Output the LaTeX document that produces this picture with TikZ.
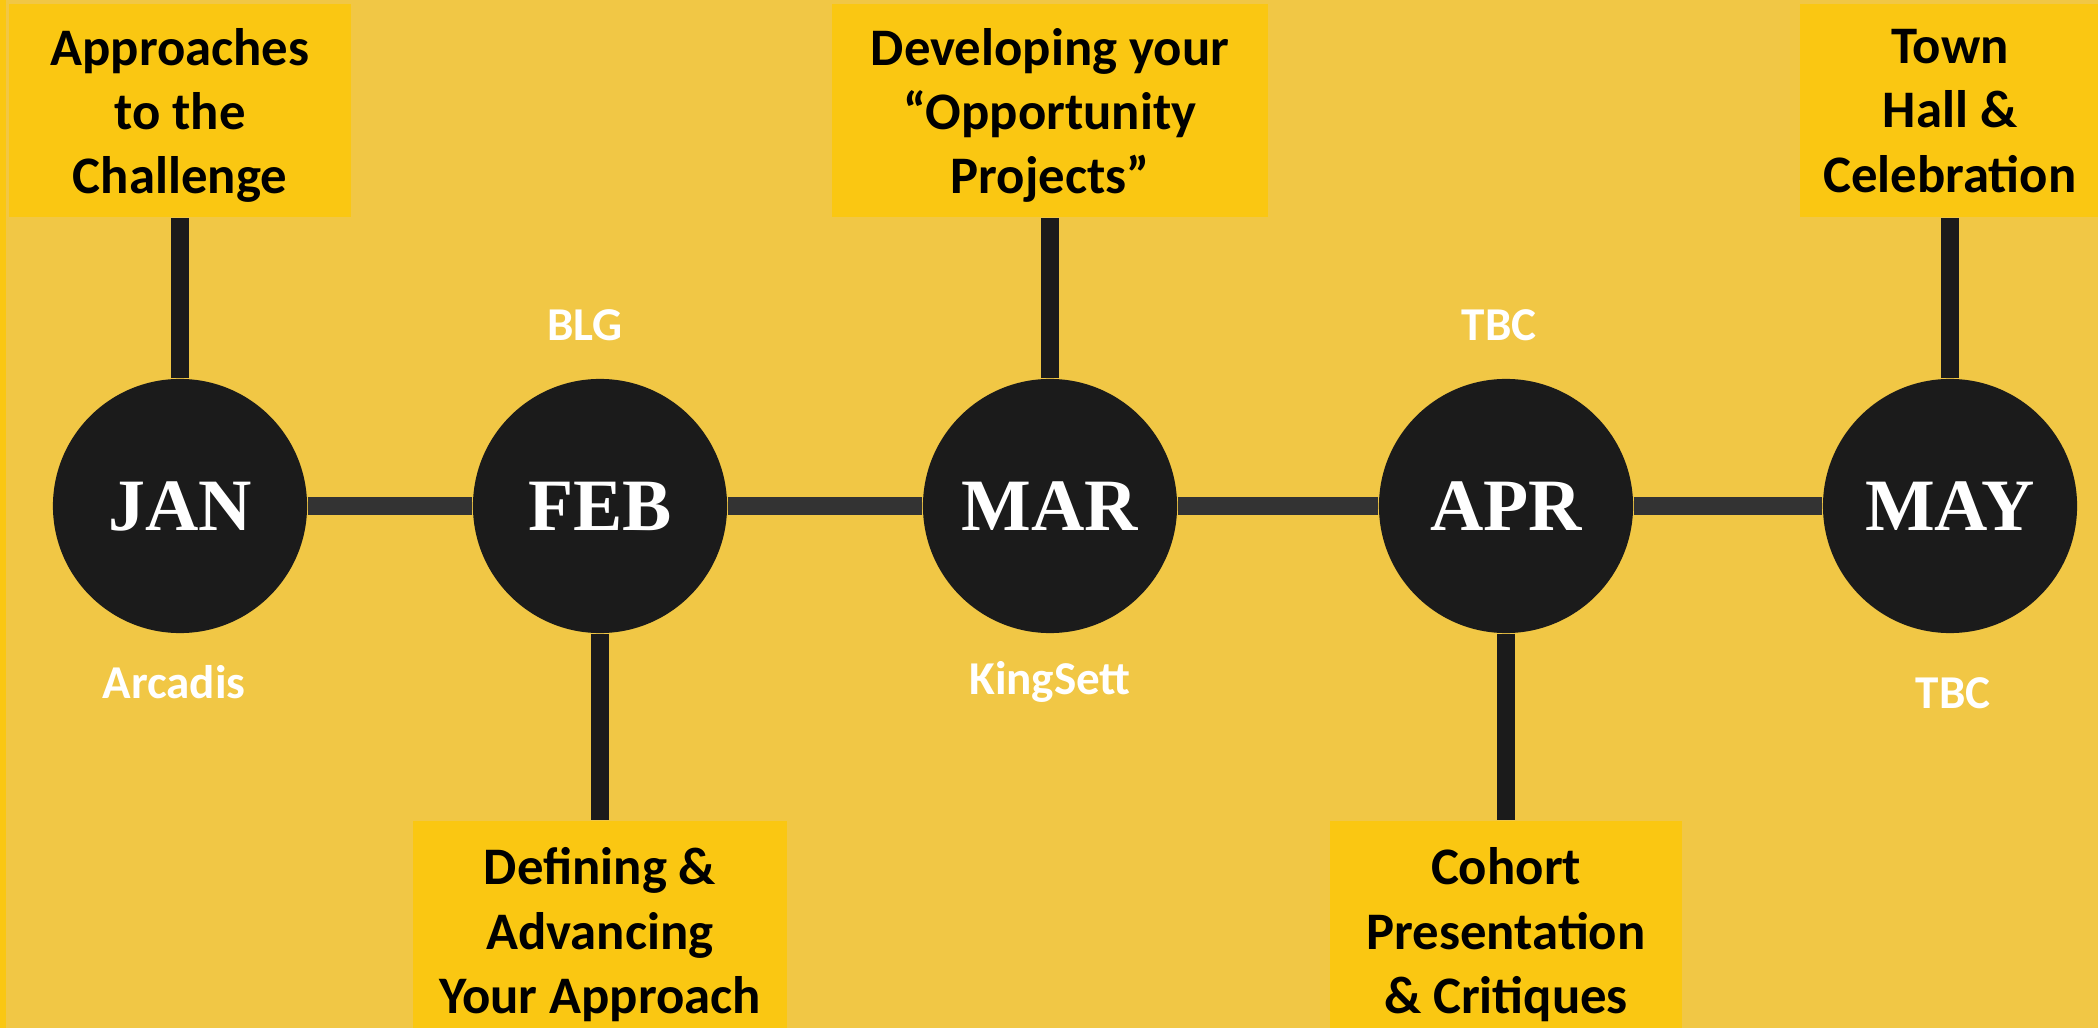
\documentclass[tikz,border=0pt]{standalone}
\usepackage{fontspec}
\setmainfont{Carlito}
\newfontfamily\monthfont{Liberation Serif}
\usepackage{xcolor}
\definecolor{bg_yellow}{RGB}{241, 199, 69}
\definecolor{box_yellow}{RGB}{250, 199, 18}
\definecolor{dot_black}{RGB}{27, 27, 27}
\definecolor{rail_gray}{RGB}{51, 51, 51}
\usepackage{tikz}
\usetikzlibrary{positioning}

\begin{document}
\begin{tikzpicture}[x=0.01cm, y=-0.01cm,
        mon/.style={circle, fill=dot_black, minimum size=2.54cm, inner sep=0pt,
                    text=white, font=\monthfont\fontsize{21}{22}\selectfont\bfseries},
        ev/.style={fill=box_yellow, minimum height=2.13cm, inner sep=0pt, text depth=0pt,
                   align=center, font=\fontsize{15}{18.3}\selectfont\bfseries},
        who/.style={text=white, font=\fontsize{13.4}{15}\selectfont\bfseries},
        pole/.style={draw=dot_black, line width=0.18cm},
        rail/.style={draw=rail_gray, line width=0.18cm}]
        \useasboundingbox (0,0) rectangle (2098,1028);
        \clip (0,0) rectangle (2098,1028);
        \fill[bg_yellow] (0,0) rectangle (2098,1028);
        \fill[box_yellow] (0,0) rectangle (6,1028);
        \node[mon] (jan) at (180,506) {JAN};
        \node[mon] (feb) at (600,506) {FEB};
        \node[mon] (mar) at (1050,506) {MAR};
        \node[mon] (apr) at (1506,506) {APR};
        \node[mon] (may) at (1950,506) {MAY};
        \foreach \a/\b in {jan/feb, feb/mar, mar/apr, apr/may}
          \draw[rail] (\a) -- (\b);
        \node[ev, minimum width=3.41cm, above=1.6cm of jan] (e_jan)
          {Approaches\\to the\\Challenge};
        \node[ev, minimum width=3.74cm, minimum height=2.2cm, below=1.86cm of feb] (e_feb)
          {Defining \&\\Advancing\\Your Approach};
        \node[ev, minimum width=4.35cm, above=1.6cm of mar] (e_mar)
          {Developing your\\“Opportunity\\Projects”};
        \node[ev, minimum width=3.51cm, minimum height=2.2cm, below=1.86cm of apr] (e_apr)
          {Cohort\\Presentation\\\& Critiques};
        \node[ev, minimum width=3.0cm, above=1.6cm of may] (e_may)
          {Town\\Hall \&\\Celebration};
        \foreach \m in {jan, feb, mar, apr, may}
          \draw[pole] (\m) -- (e_\m);
        \node[who] (blg) at (585,325) {BLG};
        \node[who] (arcadis) at (174,682) {Arcadis};
        \node[who] (kingsett) at (1050,682) {KingSett};
        \node[who] (tbc_apr) at (1499,325) {TBC};
        \node[who] (tbc_may) at (1953,693) {TBC};
      \end{tikzpicture}
\end{document}
